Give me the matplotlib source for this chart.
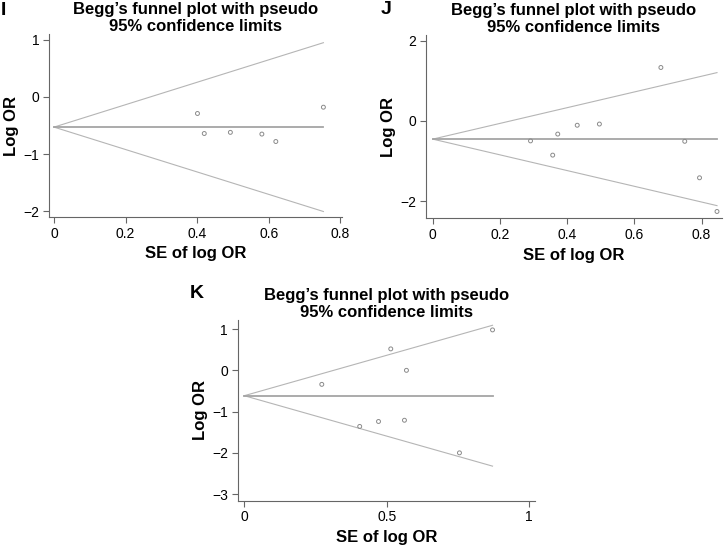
import numpy as np
import matplotlib
matplotlib.use("Agg")
import matplotlib.pyplot as plt

plt.rcParams["font.family"] = ["Liberation Sans", "DejaVu Sans"]

# panel I
se_i = [0.401, 0.420, 0.493, 0.581, 0.620, 0.753]
lor_i = [-0.29, -0.64, -0.62, -0.65, -0.78, -0.18]
pooled_i = -0.528

# panel J
se_j = [0.291, 0.357, 0.372, 0.430, 0.496, 0.679, 0.750, 0.794, 0.846]
lor_j = [-0.50, -0.855, -0.33, -0.11, -0.08, 1.33, -0.51, -1.42, -2.26]
pooled_j = -0.456

# panel K
se_k = [0.272, 0.405, 0.471, 0.514, 0.562, 0.569, 0.755, 0.871]
lor_k = [-0.34, -1.36, -1.24, 0.52, -1.21, 0.0, -2.0, 0.98]
pooled_k = -0.615

W, H = 725, 546
fig = plt.figure(figsize=(W / 100, H / 100), dpi=100)
fig.patch.set_facecolor("white")

title = "Begg\u2019s funnel plot with pseudo\n95% confidence limits"


def funnel(box, se, lor, pooled, xlim, ylim, xticks, xticklabels, yticks, letter, letter_xy):
    left, top, right, bottom = box
    ax = fig.add_axes([left / W, 1 - bottom / H, (right - left) / W, (bottom - top) / H])
    se = np.array(se)
    s = np.linspace(0, se.max(), 50)
    ax.plot(s, pooled + 1.96 * s, color="#b5b5b5", lw=0.8)
    ax.plot(s, pooled - 1.96 * s, color="#b5b5b5", lw=0.8)
    ax.plot([0, se.max()], [pooled, pooled], color="#a5a5a5", lw=1.3)
    ax.scatter(se, lor, s=8, facecolors="none", edgecolors="#8a8a8a", linewidths=0.7, zorder=3)
    ax.set_xlim(*xlim)
    ax.set_ylim(*ylim)
    ax.set_xticks(xticks)
    ax.set_xticklabels(xticklabels)
    ax.set_yticks(yticks)
    ax.set_yticklabels([str(t).replace("-", "\u2212") for t in yticks])
    for sp in ("top", "right"):
        ax.spines[sp].set_visible(False)
    for sp in ("left", "bottom"):
        ax.spines[sp].set_color("#666666")
        ax.spines[sp].set_linewidth(0.8)
    ax.tick_params(length=4, width=0.8, color="#666666", labelsize=10, pad=3)
    ax.set_xlabel("SE of log OR", fontsize=12, fontweight="bold", labelpad=4)
    ax.set_ylabel("Log OR", fontsize=12, fontweight="bold", labelpad=3)
    ax.set_title(title, fontsize=12, fontweight="bold", pad=-1, linespacing=1.2)
    fig.text(letter_xy[0] / W, 1 - letter_xy[1] / H, letter, fontsize=14, fontweight="bold",
             ha="left", va="baseline")
    return ax


funnel((49, 34, 342, 217), se_i, lor_i, pooled_i, (-0.014, 0.805), (-2.1, 1.1),
       [0, 0.2, 0.4, 0.6, 0.8], ["0", "0.2", "0.4", "0.6", "0.8"], [1, 0, -1, -2], "I", (1, 15))
funnel((425.7, 35, 721.7, 218.3), se_j, lor_j, pooled_j, (-0.021, 0.86), (-2.43, 2.14),
       [0, 0.2, 0.4, 0.6, 0.8], ["0", "0.2", "0.4", "0.6", "0.8"], [2, 0, -2], "J", (381, 14))
funnel((237.7, 320, 535, 500.7), se_k, lor_k, pooled_k, (-0.023, 1.02), (-3.16, 1.22),
       [0, 0.5, 1], ["0", "0.5", "1"], [1, 0, -1, -2, -3], "K", (190, 298))

fig.savefig("out.png", dpi=100, facecolor="white")
